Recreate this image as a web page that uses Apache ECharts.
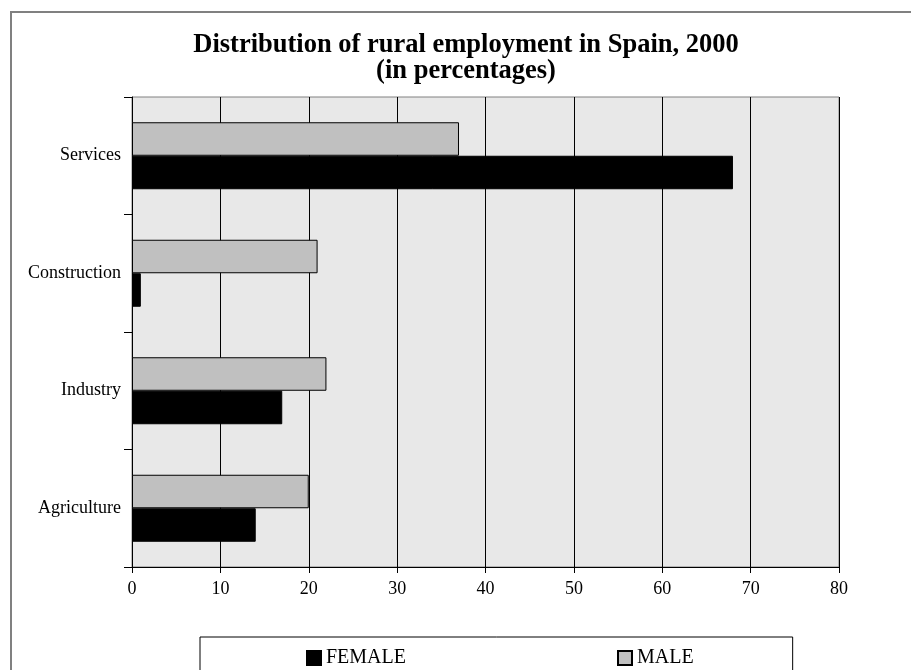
<!DOCTYPE html>
<html>
<head>
<meta charset="utf-8">
<script src="https://cdn.jsdelivr.net/npm/echarts@6/dist/echarts.min.js"></script>
<style>
html,body{margin:0;padding:0;background:#fff;}
#main{width:911px;height:670px;}
</style>
</head>
<body>
<div id="main"></div>
<script>
// rural employment by sector, Spain 2000 (%)
var categories = ['Agriculture', 'Industry', 'Construction', 'Services'];
var female = [14, 17, 1, 68];
var male = [20, 22, 21, 37];
var xTicks = [0, 80, 10]; // min, max, step

var myChart = echarts.init(document.getElementById('main'));
var serif = 'Liberation Serif';

myChart.setOption({
    backgroundColor: '#fff',
    title: {
        text: 'Distribution of rural employment in Spain, 2000\n(in percentages)',
        left: 466,
        top: 32,
        padding: 0,
        textAlign: 'center',
        textStyle: {fontFamily: serif, fontWeight: 'bold', fontSize: 26.5, lineHeight: 26, color: '#000'}
    },
    graphic: [{
        type: 'polyline',
        shape: {points: [[11, 670], [11, 12], [911, 12]]},
        style: {stroke: '#808080', lineWidth: 2, fill: null},
        silent: true
    }],
    legend: {
        data: ['FEMALE', 'MALE'],
        left: 200,
        top: 637,
        orient: 'horizontal',
        padding: [11, 99, 14, 106],
        itemGap: 211,
        itemWidth: 14,
        itemHeight: 14,
        icon: 'rect',
        borderColor: '#000',
        borderWidth: 1,
        textStyle: {fontFamily: serif, fontSize: 20, color: '#000'}
    },
    grid: {
        left: 132, right: 72, top: 97, bottom: 103,
        show: true, backgroundColor: '#e8e8e8', borderColor: '#808080', borderWidth: 1
    },
    xAxis: {
        type: 'value',
        min: xTicks[0], max: xTicks[1], interval: xTicks[2],
        axisLine: {show: true, lineStyle: {color: '#000'}},
        axisTick: {show: true, length: 6, lineStyle: {color: '#000'}},
        splitLine: {show: true, lineStyle: {color: '#000', width: 1}},
        axisLabel: {fontFamily: serif, fontSize: 18, color: '#000', margin: 13}
    },
    yAxis: {
        type: 'category',
        data: categories,
        axisLine: {show: true, lineStyle: {color: '#000'}},
        axisTick: {show: true, length: 8, alignWithLabel: false, lineStyle: {color: '#000'}},
        axisLabel: {fontFamily: serif, fontSize: 18, color: '#000', margin: 11}
    },
    series: [{
        name: 'MALE',
        type: 'bar',
        data: male,
        barWidth: 33.5,
        barGap: '0%',
        itemStyle: {color: '#c0c0c0', borderColor: '#000', borderWidth: 1}
    }, {
        name: 'FEMALE',
        type: 'bar',
        data: female,
        barWidth: 33.5,
        barGap: '0%',
        itemStyle: {color: '#000', borderColor: '#000', borderWidth: 1}
    }]
});
</script>
</body>
</html>
